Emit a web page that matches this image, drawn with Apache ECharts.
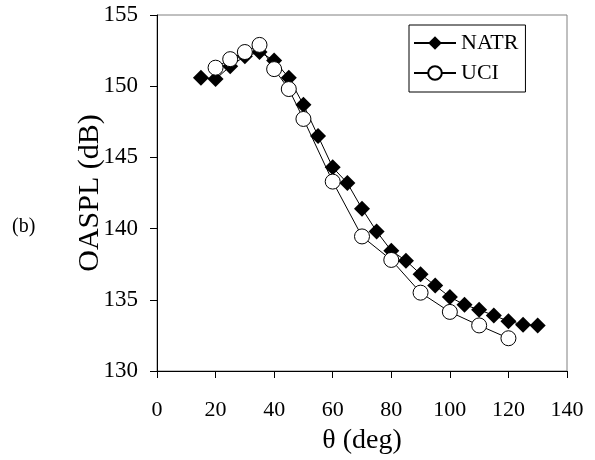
<!DOCTYPE html>
<html>
<head>
<meta charset="utf-8">
<script src="https://cdn.jsdelivr.net/npm/echarts@6/dist/echarts.min.js"></script>
<style>
  html, body { margin: 0; padding: 0; background: #fff; }
  #chart { width: 595px; height: 460px; }
</style>
</head>
<body>
<div id="chart"></div>
<script>
// Directivity of overall sound pressure level versus polar angle
const natrAngles = [15, 20, 25, 30, 35, 40, 45, 50, 55, 60, 65, 70, 75, 80, 85, 90, 95, 100, 105, 110, 115, 120, 125, 130];
const natrOaspl  = [150.6, 150.5, 151.4, 152.1, 152.4, 151.8, 150.6, 148.7, 146.5, 144.3, 143.2, 141.4, 139.8, 138.45, 137.75, 136.8, 136.0, 135.2, 134.65, 134.3, 133.9, 133.5, 133.25, 133.2];
const uciAngles  = [20, 25, 30, 35, 40, 45, 50, 60, 70, 80, 90, 100, 110, 120];
const uciOaspl   = [151.3, 151.9, 152.4, 152.9, 151.2, 149.8, 147.7, 143.3, 139.45, 137.8, 135.5, 134.15, 133.2, 132.3];
const seriesNames = ['NATR', 'UCI'];
const xTitle = 'θ (deg)';
const yTitle = 'OASPL (dB)';
const panelTag = '(b)';

const serif = '"Liberation Serif", "Times New Roman", serif';
const pair = (xs, ys) => xs.map((x, i) => [x, ys[i]]);

const chart = echarts.init(document.getElementById('chart'), null, { renderer: 'canvas' });
chart.setOption({
  animation: false,
  backgroundColor: '#fff',
  textStyle: { fontFamily: serif, color: '#000' },
  grid: {
    left: 157, top: 15, width: 410, height: 358,
    show: true, borderColor: '#808080', borderWidth: 1, backgroundColor: 'transparent'
  },
  legend: {
    orient: 'vertical',
    left: 409, top: 25,
    padding: [7, 7, 8, 4],
    itemGap: 8,
    itemWidth: 42, itemHeight: 17,
    borderColor: '#000', borderWidth: 1,
    backgroundColor: '#fff',
    textStyle: { fontFamily: serif, fontSize: 22, color: '#000' },
    data: seriesNames
  },
  xAxis: {
    type: 'value', min: 0, max: 140, interval: 20,
    name: xTitle, nameLocation: 'middle', nameGap: 56, nameMoveOverlap: false,
    nameTextStyle: { fontFamily: serif, fontSize: 28, color: '#000' },
    axisLine: { lineStyle: { color: '#000', width: 1 } },
    axisTick: { show: true, length: 7, lineStyle: { color: '#000' } },
    axisLabel: { fontFamily: serif, fontSize: 22, color: '#000', margin: 28 },
    splitLine: { show: false }
  },
  yAxis: {
    type: 'value', min: 130, max: 155, interval: 5,
    name: yTitle, nameLocation: 'middle', nameGap: 52, nameRotate: 90, nameMoveOverlap: false,
    nameTextStyle: { fontFamily: serif, fontSize: 30, color: '#000' },
    axisLine: { show: true, lineStyle: { color: '#000', width: 1 } },
    axisTick: { show: true, length: 7, lineStyle: { color: '#000' } },
    axisLabel: { fontFamily: serif, fontSize: 23, color: '#000', margin: 19 },
    splitLine: { show: false }
  },
  graphic: [{
    type: 'text', left: 12, top: 217,
    style: { text: panelTag, font: '20px ' + serif, fill: '#000' }
  }],
  series: [
    {
      name: seriesNames[0], type: 'line',
      data: pair(natrAngles, natrOaspl),
      symbol: 'diamond', symbolSize: 16,
      lineStyle: { color: '#000', width: 1 },
      itemStyle: { color: '#000', borderColor: '#000', borderWidth: 0 }
    },
    {
      name: seriesNames[1], type: 'line',
      data: pair(uciAngles, uciOaspl),
      symbol: 'circle', symbolSize: 15,
      lineStyle: { color: '#000', width: 1 },
      itemStyle: { color: '#fff', borderColor: '#000', borderWidth: 1 }
    }
  ]
});
</script>
</body>
</html>
